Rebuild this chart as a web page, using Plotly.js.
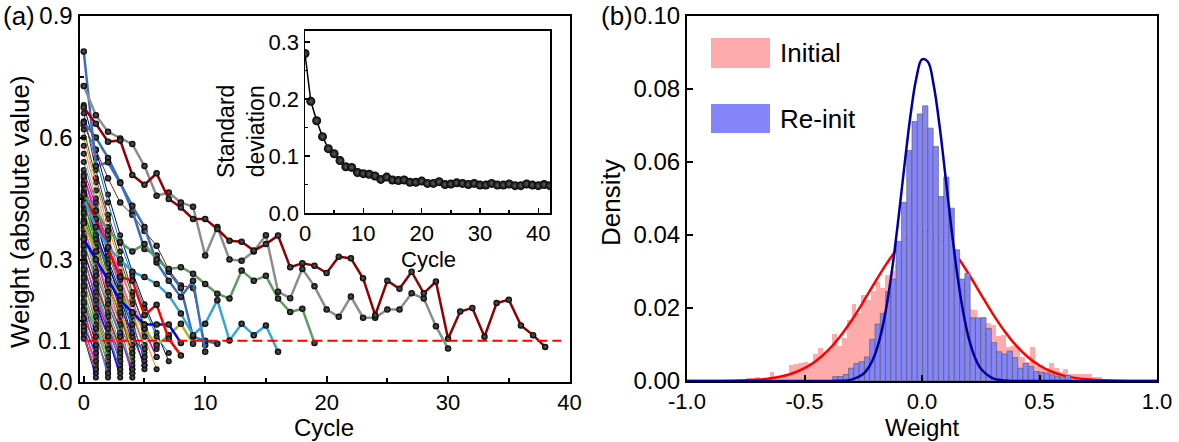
<!DOCTYPE html>
<html><head><meta charset="utf-8">
<script src="https://cdn.plot.ly/plotly-3.0.1.min.js"></script>
<style>html,body{margin:0;padding:0;background:#fff}#chart{width:1179px;height:442px}</style>
</head><body><div id="chart"></div>
<script>
// ---------------- DATA ----------------
// (a) long-lived weight trajectories, value per cycle starting at cycle 0
const darkRedLine = [0.674,0.634,0.590,0.593,0.508,0.484,0.512,0.449,0.428,0.400,0.400,0.375,0.346,0.344,0.322,0.338,0.359,0.281,0.291,0.285,0.267,0.307,0.303,0.254,0.163,0.248,0.228,0.270,0.217,0.246,0.105,0.172,0.181,0.110,0.193,0.201,0.138,0.114,0.085];
const grayLine = [0.727,0.655,0.614,0.598,0.584,0.53,0.457,0.465,0.44,0.43,0.31,0.38,0.30,0.297,0.32,0.36,0.221,0.205,0.277,0.234,0.177,0.159,0.209,0.157,0.157,0.177,0.177,0.217,0.204,0.136,0.081];
const greenLine = [0.46,0.42,0.371,0.343,0.32,0.338,0.30,0.277,0.281,0.265,0.24,0.216,0.204,0.273,0.248,0.26,0.204,0.171,0.179,0.095];
const lightBlueLine = [0.45,0.38,0.33,0.30,0.27,0.257,0.24,0.212,0.167,0.114,0.142,0.20,0.101,0.142,0.114,0.138,0.073];
const steelBlueA = [0.812,0.53,0.539,0.488,0.432,0.38,0.293,0.248,0.208,0.248,0.073];
const steelBlueB = [0.637,0.60,0.55,0.49,0.42,0.326,0.31,0.27,0.23,0.11,0.10,0.093];
const redLine = [0.457,0.40,0.326,0.257,0.248,0.163,0.189,0.105,0.064];
const blueLine = [0.35,0.30,0.25,0.20,0.17,0.14,0.14,0.14,0.095];
const yellowGreenLine = [0.39,0.32,0.26,0.21,0.17,0.13,0.089,0.114,0.142,0.093];
const thinDarkRedLine = [0.63,0.57,0.50,0.44,0.41,0.37,0.334,0.275,0.236,0.23,0.09];
// (a) short-lived trajectories (thin lines)
const bundleSeries = [
 [0.52,0.43,0.33,0.25,0.17,0.08],[0.51,0.40,0.29,0.20,0.09],[0.50,0.41,0.34,0.24,0.15,0.05],
 [0.49,0.37,0.28,0.17,0.06],[0.48,0.39,0.30,0.22,0.13,0.03],[0.47,0.35,0.24,0.14,0.02],
 [0.46,0.38,0.27,0.19,0.11,0.04],[0.45,0.33,0.25,0.16,0.07],[0.44,0.36,0.26,0.18,0.09],
 [0.43,0.31,0.22,0.12,0.01],[0.42,0.34,0.23,0.15,0.05],[0.41,0.30,0.21,0.11,0.03],
 [0.40,0.32,0.20,0.13,0.08],[0.39,0.27,0.18,0.09],[0.38,0.29,0.19,0.11,0.02],
 [0.37,0.26,0.15,0.06],[0.36,0.28,0.17,0.08],[0.35,0.24,0.14,0.04],[0.34,0.25,0.16,0.07],
 [0.33,0.22,0.12,0.03],[0.32,0.23,0.13,0.05],[0.31,0.20,0.11,0.01],[0.30,0.21,0.12,0.06],
 [0.29,0.18,0.09],[0.28,0.19,0.11,0.02],[0.27,0.16,0.07],[0.26,0.17,0.08],[0.25,0.14,0.04],
 [0.24,0.15,0.06],[0.23,0.12,0.02],[0.22,0.13,0.05],[0.21,0.11,0.03],[0.20,0.09],
 [0.19,0.12,0.01],[0.18,0.07],[0.17,0.08],[0.16,0.05],[0.15,0.06],[0.14,0.03],[0.13,0.04],
 [0.12,0.02],[0.11,0.01],
 [0.505,0.42,0.35,0.27,0.20,0.12,0.06],[0.485,0.40,0.31,0.23,0.16,0.09],[0.465,0.36,0.29,0.21,0.11,0.07],
 [0.455,0.37,0.26,0.18,0.12,0.04],[0.435,0.35,0.27,0.20,0.14,0.06],[0.415,0.33,0.25,0.16,0.09],
 [0.395,0.31,0.24,0.17,0.08],[0.375,0.30,0.22,0.14,0.07],[0.355,0.27,0.20,0.12,0.04],
 [0.335,0.26,0.19,0.11,0.03],[0.315,0.24,0.16,0.08],[0.295,0.22,0.14,0.05],[0.275,0.20,0.13,0.07],
 [0.255,0.18,0.11,0.03],[0.235,0.16,0.08],[0.215,0.14,0.06],[0.195,0.13,0.04],[0.175,0.11,0.02],
 [0.155,0.09],[0.135,0.07],[0.125,0.05],[0.105,0.03],
 [0.68,0.57,0.46,0.36,0.27,0.19,0.12,0.05],[0.66,0.52,0.41,0.32,0.22,0.13,0.06],
 [0.64,0.55,0.44,0.34,0.26,0.18,0.11,0.07],[0.62,0.50,0.40,0.30,0.21,0.14,0.08],
 [0.60,0.49,0.38,0.29,0.19,0.11,0.03],[0.58,0.47,0.36,0.26,0.17,0.09],
 [0.56,0.45,0.35,0.25,0.16,0.08],[0.54,0.44,0.33,0.23,0.14,0.06]
];
const bundleColors = ['#ff0000','#0000ff','#ff00ff','#808000','#000080','#800080','#008b8b','#008000',
  '#ff8000','#ff69b4','#9acd32','#4169e1','#8b0000','#20b2aa','#c71585','#6a5acd','#daa520','#00ced1','#b8860b','#7b68ee'];
const thresholdX = [0.3, 39.3];
const thresholdY = [0.1, 0.1];
// (a) inset: standard deviation per cycle (cycle 0..42)
const stdDev = [0.280,0.196,0.162,0.134,0.113,0.104,0.092,0.081,0.080,0.071,0.069,0.068,0.065,0.059,0.063,0.058,0.057,0.058,0.054,0.054,0.056,0.052,0.052,0.055,0.050,0.051,0.053,0.052,0.050,0.052,0.049,0.049,0.052,0.049,0.049,0.051,0.048,0.048,0.051,0.049,0.048,0.050,0.048];
// (b) histograms (density per bin)
const initialBinStart = -0.751, initialBinWidth = 0.0205;
const initialDensity = [0.0007,0.0008,0.0012,0.0003,0.0005,0.0026,0.0012,0.0013,0.0019,0.0044,0.0047,0.0049,0.0053,0.0049,
 0.0074,0.0090,0.0074,0.0086,0.0130,0.0095,0.0118,0.0168,0.0211,0.0185,0.0235,0.0222,0.0245,0.0270,0.0254,0.029,0.030,
 0.032,0.034,0.036,0.037,0.038,0.039,0.041,0.040,0.041,0.040,0.039,0.038,0.036,0.028,0.026,0.0197,0.0195,0.017,0.0175,0.0160,
 0.0153,0.0123,0.0125,0.0092,0.0095,0.0093,0.0065,0.0053,0.0093,0.0040,0.0044,0.0035,0.0050,0.0035,0.0025,0.0032,0.0018,
 0.0020,0.0020,0.0018,0.0018,0.0011,0.0010,0.0005,0.0004,0.0004,0.0003,0.0003,0.0003,0.0002,0.0002];
const reinitBinStart = -0.38, reinitBinWidth = 0.0225;
const reinitDensity = [0.0012,0.0012,0.0018,0.0035,0.0048,0.0053,0.0066,0.0114,0.0156,0.0185,0.0245,0.0279,0.0382,0.0489,
 0.0631,0.0710,0.0731,0.0753,0.0692,0.0642,0.0505,0.0558,0.0473,0.0359,0.0279,0.0295,0.0173,0.0173,0.0173,0.0144,0.0105,
 0.0080,0.0074,0.0082,0.0064,0.0035,0.0048,0.0040,0.0026,0.0024,0.0022,0.0017,0.0013,0.0011,0.0015];
// (b) fitted curves
const initialFitW = [-1,-0.9,-0.8,-0.7,-0.65,-0.6,-0.55,-0.5,-0.45,-0.4,-0.35,-0.3,-0.25,-0.2,-0.15,-0.1,-0.05,0,0.05,0.1,0.15,0.2,0.25,0.3,0.35,0.4,0.45,0.5,0.55,0.6,0.65,0.7,0.8,0.9,1];
const initialFitD = [0,0.00002,0.00008,0.00035,0.00067,0.00122,0.00212,0.0035,0.00555,0.00837,0.01204,0.01654,0.02164,0.02703,0.03218,0.03657,0.03963,0.04096,0.04038,0.03798,0.03407,0.02915,0.0238,0.01852,0.01374,0.00973,0.00657,0.00424,0.0026,0.00153,0.00085,0.00045,0.00011,0.00002,0];
const reinitFitW = [-1,-0.6,-0.45,-0.4,-0.35,-0.3,-0.25,-0.225,-0.2,-0.175,-0.15,-0.125,-0.1,-0.075,-0.05,-0.025,0,0.025,0.05,0.075,0.1,0.125,0.15,0.175,0.2,0.225,0.25,0.3,0.35,0.4,0.45,0.6,1];
const reinitFitD = [0,0,0,0.00001,0.00006,0.00038,0.00193,0.00389,0.00729,0.01275,0.02078,0.03156,0.04461,0.05879,0.07219,0.08258,0.088,0.08736,0.08084,0.06967,0.05597,0.04187,0.02919,0.01896,0.01147,0.00647,0.0034,0.00076,0.00013,0.00002,0,0,0];

// ---------------- BUILD ----------------
const W = 1179, H = 442;
const px = v => v / W, py = v => 1 - v / H;
const FONT = 'Liberation Sans, Arial, sans-serif';
const idx = a => a.map((_, i) => i);
const ball = s => ({size: s, color: '#000', line: {width: 0}, gradient: {type: 'radial', color: '#5e5e5e'}});

const traces = [];
bundleSeries.forEach((s, i) => traces.push({
  x: idx(s), y: s, xaxis: 'x', yaxis: 'y', mode: 'lines+markers', hoverinfo: 'skip',
  line: {color: bundleColors[i % bundleColors.length], width: 1}, marker: ball(6), showlegend: false
}));
const thick = [
  [thinDarkRedLine, '#8b1a1a', 1],
  [yellowGreenLine, '#a4b82a', 2.5],
  [blueLine, '#0000ff', 2.5],
  [redLine, '#ff0000', 2.5],
  [steelBlueB, '#3c6fb8', 2.5],
  [steelBlueA, '#3c6fb8', 2.5],
  [lightBlueLine, '#35a5d8', 2.5],
  [greenLine, '#5f9c5f', 2.5],
  [grayLine, '#8c8c8c', 2.5],
  [darkRedLine, '#900000', 2.5]
];
thick.forEach(([s, c, w]) => traces.push({
  x: idx(s), y: s, xaxis: 'x', yaxis: 'y', mode: 'lines+markers', hoverinfo: 'skip',
  line: {color: c, width: w}, marker: ball(6.5), showlegend: false
}));
traces.push({x: thresholdX, y: thresholdY, xaxis: 'x', yaxis: 'y', mode: 'lines',
  line: {color: '#ff0000', width: 2, dash: '10px,5px'}, showlegend: false, hoverinfo: 'skip'});
// inset
traces.push({x: idx(stdDev), y: stdDev, xaxis: 'x3', yaxis: 'y3', mode: 'lines+markers',
  line: {color: '#000', width: 1.5}, marker: ball(9), showlegend: false, hoverinfo: 'skip'});
// histograms: Initial (base subplot), Re-init (overlaying subplot drawn above)
const centers = (start, w, arr) => arr.map((_, i) => start + (i + 0.5) * w);
traces.push({type: 'bar', x: centers(initialBinStart, initialBinWidth, initialDensity), y: initialDensity,
  width: initialBinWidth, xaxis: 'x2', yaxis: 'y2', marker: {color: '#ffabab', line: {width: 0}}, showlegend: false, hoverinfo: 'skip'});
traces.push({x: initialFitW, y: initialFitD, xaxis: 'x2', yaxis: 'y2', mode: 'lines', line: {color: '#ff0000', width: 2.5, shape: 'spline'}, showlegend: false, hoverinfo: 'skip'});
traces.push({type: 'bar', x: centers(reinitBinStart, reinitBinWidth, reinitDensity), y: reinitDensity,
  width: reinitBinWidth, xaxis: 'x4', yaxis: 'y4', marker: {color: '#8585fb', line: {width: 0.6, color: '#555'}}, showlegend: false, hoverinfo: 'skip'});
traces.push({x: reinitFitW, y: reinitFitD, xaxis: 'x4', yaxis: 'y4', mode: 'lines', line: {color: '#0000a0', width: 2.5, shape: 'spline'}, showlegend: false, hoverinfo: 'skip'});

const axBase = {showline: true, mirror: true, linecolor: '#000', linewidth: 2, ticks: 'inside', ticklen: 6, tickwidth: 2,
  tickcolor: '#000', showgrid: false, zeroline: false, tickfont: {family: FONT, size: 24, color: '#000'}, fixedrange: true};
const hiddenAx = {showline: false, showgrid: false, zeroline: false, showticklabels: false, ticks: '', fixedrange: true};
const layout = {
  width: W, height: H, margin: {l: 0, r: 0, t: 0, b: 0}, paper_bgcolor: '#fff', plot_bgcolor: 'rgba(0,0,0,0)',
  showlegend: false, barmode: 'overlay', bargap: 0,
  font: {family: FONT, color: '#000'},
  xaxis: Object.assign({}, axBase, {domain: [px(79.5), px(569.5)], range: [-0.35, 40], anchor: 'y',
    tickfont: {family: FONT, size: 22, color: '#000'},
    tickvals: [0, 10, 20, 30, 40], minor: {tickvals: [5, 15, 25, 35], ticks: 'inside', ticklen: 4, tickwidth: 2, tickcolor: '#000'}}),
  yaxis: Object.assign({}, axBase, {domain: [1 - 381.5 / H, 1 - 15.6 / H], range: [0, 0.9], anchor: 'x',
    tickvals: [0, 0.3, 0.6, 0.9], ticktext: ['0.0', '0.3', '0.6', '0.9'],
    minor: {tickvals: [0.15, 0.45, 0.75], ticks: 'inside', ticklen: 4, tickwidth: 2, tickcolor: '#000'}}),
  xaxis2: Object.assign({}, axBase, {domain: [px(687), px(1157)], range: [-1, 1], anchor: 'y2',
    tickfont: {family: FONT, size: 22, color: '#000'},
    tickvals: [-1, -0.5, 0, 0.5, 1], ticktext: ['-1.0', '-0.5', '0.0', '0.5', '1.0']}),
  yaxis2: Object.assign({}, axBase, {domain: [1 - 381 / H, 1 - 15.6 / H], range: [0, 0.1], anchor: 'x2',
    tickvals: [0, 0.02, 0.04, 0.06, 0.08, 0.1], ticktext: ['0.00', '0.02', '0.04', '0.06', '0.08', '0.10']}),
  xaxis4: Object.assign({}, hiddenAx, {overlaying: 'x2', range: [-1, 1], anchor: 'y4'}),
  yaxis4: Object.assign({}, hiddenAx, {overlaying: 'y2', range: [0, 0.1], anchor: 'x4'}),
  xaxis3: Object.assign({}, axBase, {domain: [px(305), px(550)], range: [0, 42], anchor: 'y3', linewidth: 1.5,
    tickvals: [0, 10, 20, 30, 40], tickfont: {family: FONT, size: 22, color: '#000'}, ticklen: 5, tickwidth: 1.5,
    minor: {tickvals: [5, 15, 25, 35], ticks: 'inside', ticklen: 3, tickwidth: 1.5, tickcolor: '#000'}}),
  yaxis3: Object.assign({}, axBase, {domain: [1 - 213 / H, 1 - 30.7 / H], range: [0, 0.32], anchor: 'x3', linewidth: 1.5,
    tickvals: [0, 0.1, 0.2, 0.3], ticktext: ['0.0', '0.1', '0.2', '0.3'], tickfont: {family: FONT, size: 22, color: '#000'},
    ticklen: 5, tickwidth: 1.5,
    minor: {tickvals: [0.05, 0.15, 0.25], ticks: 'inside', ticklen: 3, tickwidth: 1.5, tickcolor: '#000'}}),
  shapes: [
    {type: 'rect', xref: 'paper', yref: 'paper', x0: px(711), x1: px(770), y0: py(68), y1: py(38), fillcolor: '#ffabab', line: {width: 0}},
    {type: 'rect', xref: 'paper', yref: 'paper', x0: px(711), x1: px(770), y0: py(133), y1: py(104), fillcolor: '#8585fb', line: {width: 0}}
  ],
  annotations: [
    {text: '(a)', x: px(1), y: py(16), xanchor: 'left', yanchor: 'middle'},
    {text: '(b)', x: px(599), y: py(16), xanchor: 'left', yanchor: 'middle'},
    {text: '0.1', x: px(73), y: 0.1, yref: 'y', xanchor: 'right', yanchor: 'middle', font: {size: 24}},
    {text: 'Weight (absolute value)', x: px(20), y: py(212), textangle: -90, xanchor: 'center', yanchor: 'middle', font: {size: 26}},
    {text: 'Cycle', x: px(324), y: py(427), xanchor: 'center', yanchor: 'middle', font: {size: 24}},
    {text: 'Standard<br>deviation', x: px(241), y: py(132), textangle: -90, xanchor: 'center', yanchor: 'middle', font: {size: 23}},
    {text: 'Cycle', x: px(428), y: py(259), xanchor: 'center', yanchor: 'middle', font: {size: 22}},
    {text: 'Density', x: px(611), y: py(203), textangle: -90, xanchor: 'center', yanchor: 'middle', font: {size: 26}},
    {text: 'Weight', x: px(923), y: py(427), xanchor: 'center', yanchor: 'middle', font: {size: 24}},
    {text: 'Initial', x: px(778), y: py(53), xanchor: 'left', yanchor: 'middle', font: {size: 26}},
    {text: 'Re-init', x: px(778), y: py(119), xanchor: 'left', yanchor: 'middle', font: {size: 26}}
  ].map(a => Object.assign({xref: 'paper', yref: 'paper', showarrow: false}, a, {font: Object.assign({family: FONT, color: '#000', size: 26}, a.font || {})}))
};
Plotly.newPlot('chart', traces, layout, {displayModeBar: false, staticPlot: true});
</script>
</body></html>
